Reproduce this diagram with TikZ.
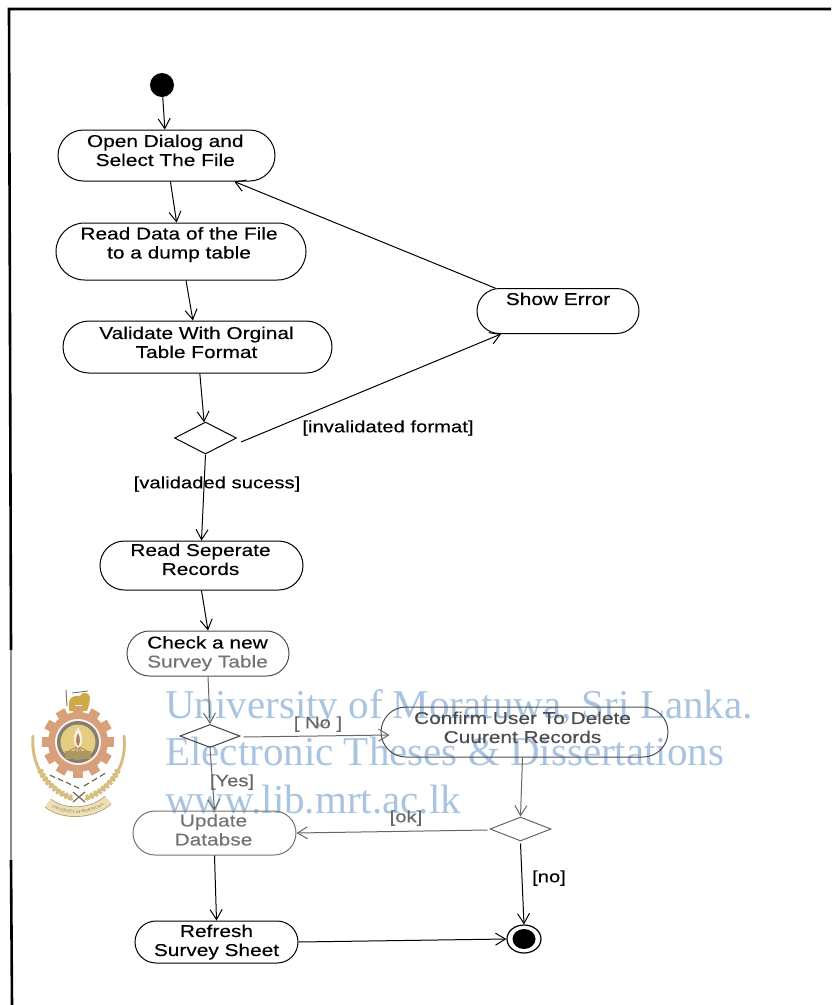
\documentclass[tikz,border=0pt]{standalone}
\usepackage{fontspec}
\setmainfont{Liberation Serif}
\newfontfamily\diafont[FakeStretch=1.22,FakeBold=0.25]{Liberation Sans}
\usetikzlibrary{shapes.misc,shapes.geometric,arrows.meta,decorations.text,calc}
\definecolor{wm}{RGB}{168,196,224}
\definecolor{gearc}{RGB}{216,160,122}
\definecolor{goldc}{RGB}{228,204,128}
\definecolor{lionc}{RGB}{205,170,70}
\definecolor{tanc}{RGB}{214,190,130}
\definecolor{ringc}{RGB}{135,125,118}
\newcommand\tx[3]{\makebox[0pt][c]{\hspace*{#1pt}\raisebox{\dimexpr#2pt-6.5pt\relax}[0pt][0pt]{\begin{tabular}{@{}c@{}}#3\end{tabular}}}}
\tikzset{
 act/.style={rounded rectangle,draw=black,line width=1pt,inner sep=0pt,font=\diafont\fontsize{17.1}{19}\selectfont},
 actgray/.style={act,draw=black!55,text=black!55},
 dec/.style={diamond,draw=black,line width=1pt,inner sep=0pt,aspect=1.9},
 flow/.style={line width=1pt,-{Straight Barb[length=10pt,width=12pt]}},
 grayflow/.style={flow,draw=black!60},
 lab/.style={font=\diafont\fontsize{16.6}{19}\selectfont,inner sep=0pt},
 wmark/.style={text=wm,anchor=base west,inner sep=0pt,font=\fontsize{41}{41}\selectfont},
}
\begin{document}
\begin{tikzpicture}[x=1pt,y=-1pt]
\useasboundingbox (0,0) rectangle (831,1005);
% frame
\draw[line width=2.6pt] (831,9) -- (9,9) -- (11,650);
\draw[line width=2.6pt,black!45] (11,650) -- (11,860);
\draw[line width=2.6pt] (11,860) -- (12,1005);
% crest
\draw[tanc,line width=3pt,line cap=round] (33,736) .. controls (31,765) and (44,785) .. (72,799);
\draw[tanc,line width=3pt,line cap=round] (124,736) .. controls (127,765) and (114,785) .. (86,799);
\draw[tanc,line width=6pt,dash pattern=on 3pt off 1.5pt] (40,770) .. controls (47,785) and (58,793) .. (72,798);
\draw[tanc,line width=6pt,dash pattern=on 3pt off 1.5pt] (118,770) .. controls (111,785) and (100,793) .. (86,798);
\draw[black!45!tanc,line width=1.2pt] (73,792) -- (85,802) (85,792) -- (73,802);
\draw[tanc!80!black,line width=10.5pt] (48,803) .. controls (62,815) and (92,815) .. (108,800);
\draw[goldc!60!white,line width=9pt] (48,803) .. controls (62,815) and (92,815) .. (108,800);
\path[decorate,decoration={text along path,text align=center,text={|\fontsize{4}{4}\selectfont\color{black!55}|UNIVERSITY OF MORATUWA}}] (48,804.5) .. controls (62,816.5) and (92,816.5) .. (108,801.5);
\foreach \a in {0,30,...,330}{\fill[gearc,rotate around={\a:(78,742)}] (73,706) rectangle (83,714);}
\fill[gearc] (78,742) circle (30);
\fill[white!85!gearc] (78,742) circle (23);
\fill[ringc] (78,742) circle (21);
\fill[goldc] (78,742) circle (17.5);
\foreach \a in {-150,-120,...,-30}{\draw[gearc!85!black,line width=1pt] (78,746) -- ++(\a:-14);}
\fill[goldc!75!black] (65,751) rectangle (91,759);
\fill[white!70!goldc] (78,727) .. controls (71,738) and (74,746) .. (78,748) .. controls (82,746) and (85,738) .. (78,727);
\fill[gearc!80!black] (78,733) .. controls (75,739) and (76,744) .. (78,746) .. controls (80,744) and (81,739) .. (78,733);
\draw[black!35!tanc,line width=1pt] (66,690) -- (67,706);
\fill[lionc] (69,704) .. controls (69,697) and (74,695) .. (80,696) .. controls (82,691) and (89,692) .. (90,697) .. controls (90,703) and (88,708) .. (87,711) -- (83,711) -- (82,705) -- (75,705) -- (74,711) -- (69,711) -- cycle;
\draw[black!45!tanc,line width=.8pt] (72,693) -- (88,691);
\foreach \x in {50,58,...,74}{\draw[black!50!tanc,line width=1.1pt] (\x,{775+(\x-50)*.45}) -- ++(5,2.5);}
\foreach \x in {84,92,...,100}{\draw[black!50!tanc,line width=1.1pt] (\x,{786-(\x-84)*.6}) -- ++(5,-3);}
% watermark
\node[wmark] (w1) at (165,718) {University of Moratuwa, Sri Lanka.};
\node[wmark] (w2) at (165,765) {Electronic Theses \& Dissertations};
\node[wmark] (w3) at (165,813) {www.lib.mrt.ac.lk};
% nodes
\node[circle,fill=black,inner sep=0pt,minimum width=24pt] (start) at (162,85) {};
\node[act,minimum width=217pt,minimum height=51pt] (open) at (166.5,155.5) {\tx{-2.5}{5}{Open Dialog and\\Select The File}};
\node[act,minimum width=250pt,minimum height=57pt] (read) at (181,251.5) {\tx{-4}{8.5}{Read Data of the File\\to a dump table}};
\node[act,minimum width=269pt,minimum height=52pt] (valid) at (197.5,347) {\tx{-2}{4.5}{Validate With Orginal\\Table Format}};
\node[dec,minimum width=62pt,minimum height=32pt] (d1) at (205.5,438) {};
\node[act,minimum width=162pt,minimum height=45pt] (err) at (558,311) {\tx{0}{12}{Show Error}};
\node[act,minimum width=203pt,minimum height=49pt] (sep) at (201.5,565.5) {\tx{-2}{6}{Read Seperate\\Records}};
\node[act,draw=black!70,minimum width=162pt,minimum height=45pt] (check) at (208,653.5) {\tx{-1}{1.5}{Check a new\\{\color{black!55}Survey Table}}};
\node[dec,draw=black!75,minimum width=60pt,minimum height=23pt] (d2) at (210,736) {};
\node[actgray,draw=black!70,text=black!70,minimum width=287pt,minimum height=50pt] (conf) at (524.5,732) {\tx{-4}{4.5}{Confirm User To Delete\\Cuurent Records}};
\node[actgray,minimum width=163pt,minimum height=44pt] (upd) at (214.5,833) {\tx{-2}{3}{Update\\Databse}};
\node[dec,draw=black!60,minimum width=61pt,minimum height=24pt] (d3) at (520.5,829) {};
\node[act,minimum width=163pt,minimum height=42pt] (ref) at (216.5,942) {\tx{0}{1.5}{Refresh\\Survey Sheet}};
\node[ellipse,draw=black,line width=1.2pt,fill=white,inner sep=0pt,minimum width=34pt,minimum height=28pt] (fin) at (524,939) {};
\node[ellipse,fill=black,inner sep=0pt,minimum width=23pt,minimum height=20pt] at (fin) {};
% connectors
\draw[flow] (start) -- (open);
\draw[flow] (open) -- (read);
\draw[flow] (read) -- (valid);
\draw[flow] (valid) -- (d1);
\draw[flow] ($(d1.east)+(4,4)$) -- (err.202);
\draw[flow] (err.160) -- (open.-21);
\draw[flow] (d1.south) -- (sep.north);
\draw[flow] (sep.south) -- (check.north);
\draw[grayflow] (check.south) -- (d2.north);
\draw[grayflow] ($(d2.east)+(3,1)$) -- ($(conf.west)+(9,3)$);
\draw[grayflow] (d2.south) -- (upd.north);
\draw[grayflow] ($(conf.south)+(-2,0)$) -- (d3.north);
\draw[grayflow] ($(d3.west)+(-2,1)$) -- (upd.east);
\draw[flow] ($(d3.south)+(0,2)$) -- (fin.north);
\draw[flow] (upd.south) -- (ref.north);
\draw[flow] (ref.east) -- (fin.west);
% labels
\node[lab] (l1) at (388,428) {[invalidated format]};
\node[lab] (l2) at (217,484) {[validaded sucess]};
\node[lab,text=black!60] (l3) at (318,724) {[ No ]};
\node[lab,text=black!60] (l4) at (232,782) {[Yes]};
\node[lab,text=black!60] (l5) at (406,818) {[ok]};
\node[lab] (l6) at (549,878) {[no]};
\end{tikzpicture}
\end{document}
